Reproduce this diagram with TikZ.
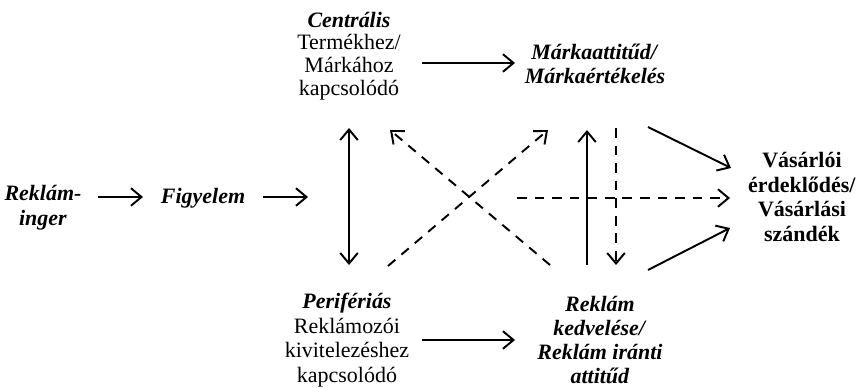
\documentclass[tikz,border=0pt]{standalone}
\usepackage{fontspec}
\setmainfont{Liberation Serif}
\usetikzlibrary{arrows.meta}

\tikzset{
  lbl/.style={align=center, inner sep=0pt, font=\fontsize{12.5}{14}\selectfont},
  arr/.style={-{Straight Barb[length=6pt,width=10pt]}, line width=1.1pt},
  arrboth/.style={{Straight Barb[length=6pt,width=10pt]}-{Straight Barb[length=6pt,width=10pt]}, line width=1.1pt},
  dasharr/.style={arr, dash pattern=on 5.5pt off 4.5pt},
}

\begin{document}
\begin{tikzpicture}[x=0.02cm, y=-0.02cm]

	\useasboundingbox (0,0) rectangle (859,388);

	\node[lbl] (rek) at (43, 208)  {\textbf{\textit{Reklám-}}\\\textbf{\textit{inger}}};
	\node[lbl] (fig) at (203, 198) {\textbf{\textit{Figyelem}}};
	\node[lbl, font=\fontsize{12.5}{13}\selectfont] (cen) at (349, 56)
		{\textbf{\textit{Centrális}}\\Termékhez/\\Márkához\\kapcsolódó};
	\node[lbl] (mar) at (595, 64)  {\textbf{\textit{Márkaattitűd/}}\\\textbf{\textit{Márkaértékelés}}};
	\node[lbl] (per) at (347, 340) {\textbf{\textit{Perifériás}}\\Reklámozói\\kivitelezéshez\\kapcsolódó};
	\node[lbl, font=\fontsize{12.5}{13.6}\selectfont] (ked) at (600, 340)
		{\textbf{\textit{Reklám}}\\\textbf{\textit{kedvelése/}}\\\textbf{\textit{Reklám iránti}}\\\textbf{\textit{attitűd}}};
	\node[lbl] (vas) at (802, 197) {\textbf{Vásárlói}\\\textbf{érdeklődés/}\\\textbf{Vásárlási}\\\textbf{szándék}};

	\coordinate (split) at (349, 197);
	\coordinate (cross) at (470, 198);

	\path[arr] ([shift={(55,-11)}]rek.center) edge ([shift={(-60,-1)}]fig.center);
	\path[arr] ([shift={(60,-1)}]fig.center) edge ([shift={(-41,0)}]split);

	\path[arrboth] ([shift={(2,-75)}]per.center) edge ([shift={(0,72)}]cen.center);
	\path[arr] ([shift={(73,7)}]cen.center) edge ([shift={(-80,-1)}]mar.center);
	\path[arr] ([shift={(75,0)}]per.center) edge ([shift={(-85,0)}]ked.center);

	\path[dasharr] ([shift={(41,-74)}]per.center) edge ([shift={(-47,66)}]mar.center);
	\path[dasharr] ([shift={(-50,-75)}]ked.center) edge ([shift={(41,74)}]cen.center);
	\path[arr] ([shift={(-13,-75)}]ked.center) edge ([shift={(-8,66)}]mar.center);
	\path[dasharr] ([shift={(21,64)}]mar.center) edge ([shift={(16,-75)}]ked.center);

	\path[arr] ([shift={(53,63)}]mar.center) edge ([shift={(-71,-29)}]vas.center);
	\path[dasharr] ([shift={(47,0)}]cross) edge ([shift={(-72,1)}]vas.center);
	\path[arr] ([shift={(48,-70)}]ked.center) edge ([shift={(-72,31)}]vas.center);

\end{tikzpicture}
\end{document}
